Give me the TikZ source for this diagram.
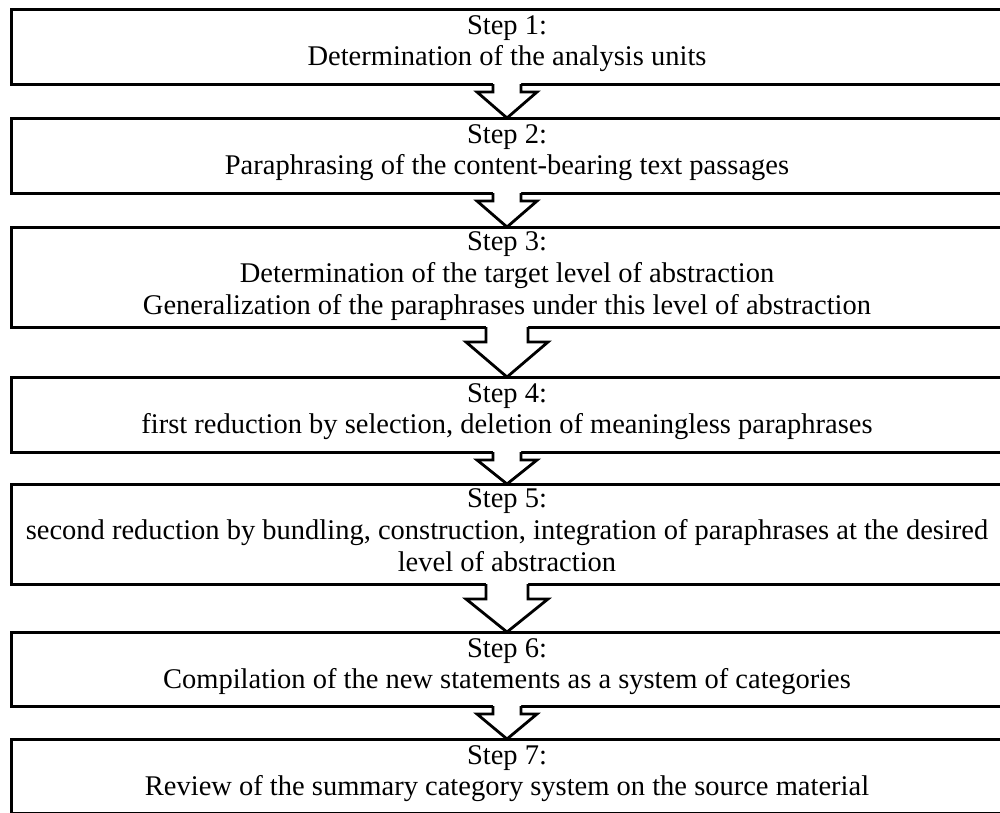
\documentclass[tikz,border=0pt]{standalone}
\usepackage{fontspec}
\setmainfont{Liberation Serif}
\usetikzlibrary{calc}

\tikzset{
  stepbox/.style={draw,line width=3pt,minimum width=992pt,anchor=north,inner sep=0pt,outer sep=0pt},
  steptext/.style={anchor=north,align=center,font=\fontsize{28.5}{31}\selectfont,inner sep=3pt,yshift=-3pt},
  longtext/.style={steptext,font=\fontsize{28.5}{32}\selectfont,yshift=2pt},
  arrowline/.style={line width=2.8pt,line join=miter}
}

% block arrow: from, to, shaft half width, head half width, shaft length
\newcommand{\blockarrow}[5]{%
  \fill[white] ($(#1.south)+(-#3,-2)$) -- ($(#1.south)+(-#3,#5)$) -- ($(#1.south)+(-#4,#5)$)
    -- (#2.north) -- ($(#1.south)+(#4,#5)$) -- ($(#1.south)+(#3,#5)$) -- ($(#1.south)+(#3,-2)$) -- cycle;
  \draw[arrowline] ($(#1.south)+(-#3,0)$) -- ($(#1.south)+(-#3,#5)$) -- ($(#1.south)+(-#4,#5)$)
    -- (#2.north) -- ($(#1.south)+(#4,#5)$) -- ($(#1.south)+(#3,#5)$) -- ($(#1.south)+(#3,0)$);
}

\begin{document}
\begin{tikzpicture}[x=1pt,y=-1pt]
  \useasboundingbox[fill=white] (0,0) rectangle (1000,812);

  % boxes
  \node[stepbox,minimum height=75pt] (s1) at (507,9) {};
  \node[stepbox,minimum height=75pt] (s2) at (507,118) {};
  \node[stepbox,minimum height=100pt] (s3) at (507,227) {};
  \node[stepbox,minimum height=75pt] (s4) at (507,377) {};
  \node[stepbox,minimum height=100pt] (s5) at (507,484) {};
  \node[stepbox,minimum height=74pt] (s6) at (507,632) {};
  \node[stepbox,minimum height=74pt] (s7) at (507,739) {};

  % texts
  \node[steptext] (t1) at (s1.north) {Step 1:\\Determination of the analysis units};
  \node[steptext] (t2) at (s2.north) {Step 2:\\Paraphrasing of the content-bearing text passages};
  \node[longtext] (t3) at (s3.north) {Step 3:\\Determination of the target level of abstraction\\Generalization of the paraphrases under this level of abstraction};
  \node[steptext] (t4) at (s4.north) {Step 4:\\first reduction by selection, deletion of meaningless paraphrases};
  \node[longtext] (t5) at (s5.north) {Step 5:\\second reduction by bundling, construction, integration of paraphrases at the desired\\level of abstraction};
  \node[steptext] (t6) at (s6.north) {Step 6:\\Compilation of the new statements as a system of categories};
  \node[steptext] (t7) at (s7.north) {Step 7:\\Review of the summary category system on the source material};

  % arrows
  \blockarrow{s1}{s2}{14}{30}{8}
  \blockarrow{s2}{s3}{14}{30}{8}
  \blockarrow{s3}{s4}{21}{41}{15}
  \blockarrow{s4}{s5}{14}{30}{8}
  \blockarrow{s5}{s6}{21}{41}{15}
  \blockarrow{s6}{s7}{14}{30}{8}
\end{tikzpicture}
\end{document}
